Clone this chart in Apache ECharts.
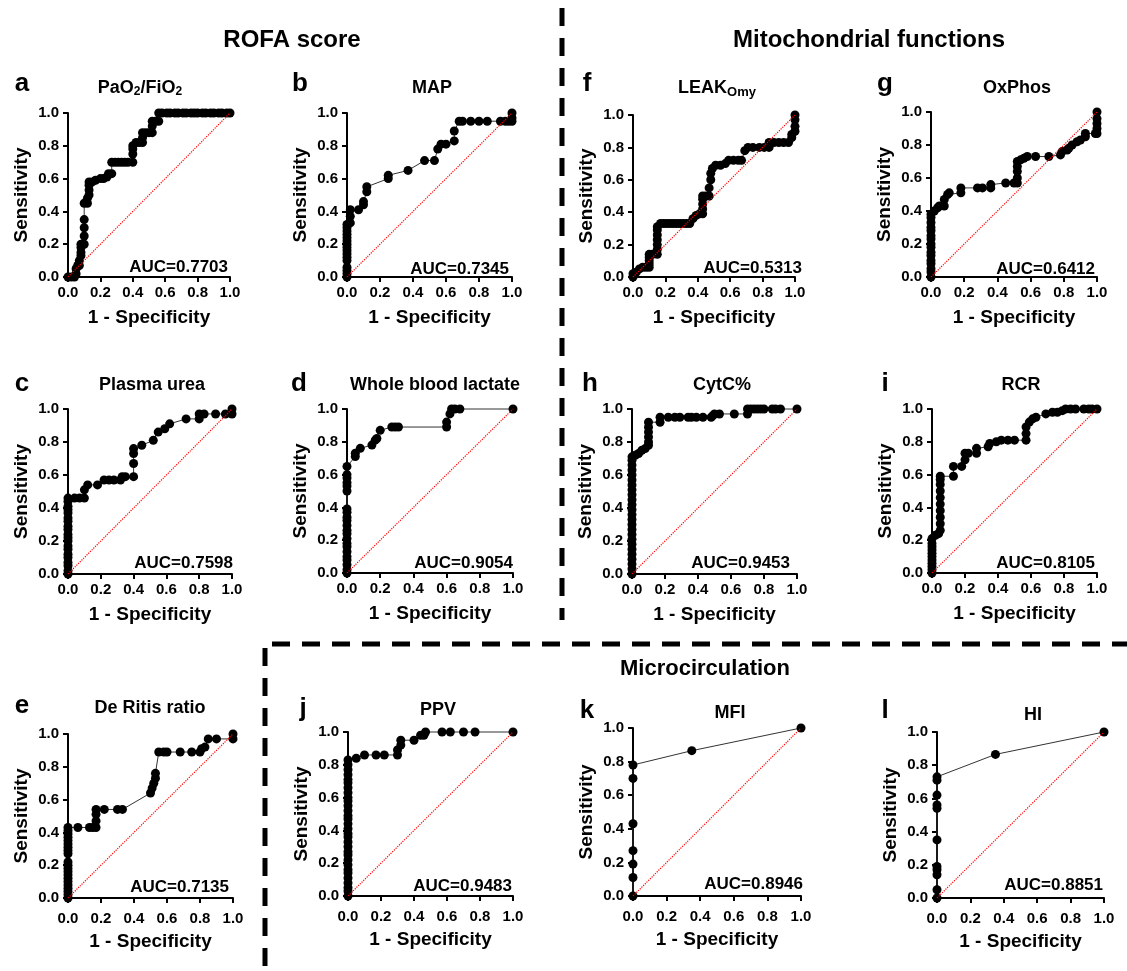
<!doctype html>
<html>
<head>
<meta charset="UTF-8">
<title>ROC curves</title>
<script src="https://cdn.jsdelivr.net/npm/echarts@6/dist/echarts.min.js"></script>
<style>body{margin:0;background:#fff}</style>
</head>
<body>
<div id="main" style="width:1127px;height:971px;"></div>
<script>
    var FONT = '"Liberation Sans", Arial, sans-serif';

    // ROC points [1 - specificity, sensitivity]
    var rocA = [[0,0],[0.02,0],[0.04,0],[0.05,0.02],[0.05,0.05],[0.06,0.07],[0.07,0.07],[0.07,0.1],[0.08,0.13],[0.08,0.15],[0.08,0.18],[0.08,0.2],[0.1,0.2],[0.1,0.25],[0.1,0.3],[0.1,0.35],[0.1,0.45],[0.12,0.45],[0.12,0.48],[0.13,0.5],[0.13,0.53],[0.13,0.56],[0.13,0.58],[0.15,0.58],[0.17,0.59],[0.2,0.6],[0.22,0.6],[0.24,0.61],[0.25,0.63],[0.27,0.63],[0.27,0.7],[0.29,0.7],[0.31,0.7],[0.33,0.7],[0.35,0.7],[0.37,0.7],[0.4,0.7],[0.4,0.75],[0.4,0.78],[0.4,0.8],[0.42,0.82],[0.44,0.82],[0.46,0.82],[0.46,0.85],[0.46,0.88],[0.48,0.88],[0.5,0.88],[0.52,0.88],[0.52,0.92],[0.52,0.95],[0.54,0.95],[0.56,0.95],[0.56,1],[0.58,1],[0.61,1],[0.63,1],[0.66,1],[0.68,1],[0.71,1],[0.73,1],[0.76,1],[0.78,1],[0.8,1],[0.83,1],[0.85,1],[0.88,1],[0.9,1],[0.93,1],[0.95,1],[0.98,1],[1,1]];
    var rocB = [[0,0],[0,0.02],[0,0.04],[0,0.06],[0,0.1],[0,0.12],[0,0.14],[0,0.16],[0,0.18],[0,0.2],[0,0.22],[0,0.24],[0,0.26],[0,0.28],[0,0.3],[0,0.32],[0.02,0.33],[0.02,0.37],[0.02,0.41],[0.07,0.41],[0.1,0.44],[0.1,0.46],[0.12,0.52],[0.12,0.55],[0.25,0.6],[0.25,0.62],[0.37,0.65],[0.47,0.71],[0.53,0.71],[0.55,0.78],[0.57,0.81],[0.6,0.81],[0.65,0.83],[0.65,0.89],[0.68,0.95],[0.7,0.95],[0.75,0.95],[0.8,0.95],[0.85,0.95],[0.93,0.95],[0.96,0.95],[0.98,0.95],[1,0.95],[1,0.97],[1,1]];
    var rocF = [[0,0],[0,0.02],[0.02,0.03],[0.04,0.05],[0.06,0.06],[0.08,0.06],[0.1,0.06],[0.1,0.08],[0.1,0.1],[0.1,0.12],[0.1,0.14],[0.12,0.14],[0.15,0.14],[0.15,0.17],[0.15,0.2],[0.15,0.23],[0.15,0.26],[0.15,0.29],[0.15,0.31],[0.17,0.33],[0.19,0.33],[0.21,0.33],[0.23,0.33],[0.25,0.33],[0.27,0.33],[0.29,0.33],[0.31,0.33],[0.33,0.33],[0.35,0.33],[0.37,0.36],[0.39,0.38],[0.41,0.39],[0.43,0.39],[0.43,0.42],[0.43,0.45],[0.43,0.48],[0.43,0.5],[0.45,0.5],[0.47,0.5],[0.47,0.55],[0.48,0.6],[0.48,0.64],[0.49,0.67],[0.51,0.69],[0.54,0.69],[0.57,0.7],[0.59,0.72],[0.62,0.72],[0.65,0.72],[0.67,0.72],[0.69,0.78],[0.71,0.8],[0.74,0.8],[0.78,0.8],[0.81,0.8],[0.84,0.8],[0.84,0.83],[0.87,0.83],[0.9,0.83],[0.93,0.83],[0.96,0.83],[0.98,0.86],[0.98,0.88],[1,0.9],[1,0.93],[1,0.97],[1,1]];
    var rocG = [[0,0],[0,0.03],[0,0.05],[0,0.08],[0,0.1],[0,0.13],[0,0.15],[0,0.18],[0,0.2],[0,0.23],[0,0.25],[0,0.28],[0,0.3],[0,0.33],[0,0.36],[0,0.38],[0.02,0.4],[0.04,0.42],[0.05,0.43],[0.08,0.43],[0.08,0.47],[0.1,0.5],[0.11,0.51],[0.18,0.51],[0.18,0.54],[0.28,0.54],[0.31,0.54],[0.36,0.54],[0.36,0.56],[0.45,0.57],[0.5,0.57],[0.52,0.57],[0.52,0.6],[0.52,0.64],[0.52,0.67],[0.52,0.7],[0.54,0.71],[0.56,0.72],[0.58,0.73],[0.63,0.73],[0.71,0.73],[0.78,0.74],[0.79,0.76],[0.82,0.77],[0.83,0.78],[0.85,0.8],[0.88,0.82],[0.9,0.83],[0.93,0.85],[0.93,0.87],[0.99,0.87],[1,0.87],[1,0.9],[1,0.93],[1,0.96],[1,1]];
    var rocC = [[0,0],[0,0.02],[0,0.05],[0,0.07],[0,0.1],[0,0.12],[0,0.15],[0,0.17],[0,0.2],[0,0.22],[0,0.24],[0,0.27],[0,0.29],[0,0.32],[0,0.34],[0,0.37],[0,0.39],[0,0.41],[0,0.44],[0,0.46],[0.04,0.46],[0.07,0.46],[0.1,0.46],[0.1,0.51],[0.12,0.54],[0.18,0.54],[0.22,0.57],[0.25,0.57],[0.28,0.57],[0.32,0.57],[0.33,0.59],[0.35,0.59],[0.4,0.59],[0.4,0.67],[0.4,0.73],[0.4,0.76],[0.45,0.78],[0.52,0.81],[0.55,0.86],[0.59,0.88],[0.62,0.91],[0.72,0.94],[0.8,0.94],[0.8,0.97],[0.83,0.97],[0.9,0.97],[0.96,0.97],[1,0.97],[1,1]];
    var rocD = [[0,0],[0,0.02],[0,0.05],[0,0.08],[0,0.1],[0,0.13],[0,0.16],[0,0.18],[0,0.21],[0,0.24],[0,0.26],[0,0.29],[0,0.32],[0,0.34],[0,0.37],[0,0.39],[0,0.5],[0,0.53],[0,0.55],[0,0.58],[0,0.6],[0,0.65],[0.05,0.71],[0.05,0.73],[0.08,0.76],[0.15,0.78],[0.17,0.81],[0.18,0.82],[0.2,0.87],[0.27,0.89],[0.29,0.89],[0.31,0.89],[0.6,0.89],[0.6,0.92],[0.62,0.97],[0.63,1],[0.65,1],[0.68,1],[1,1]];
    var rocH = [[0,0],[0,0.03],[0,0.06],[0,0.09],[0,0.12],[0,0.15],[0,0.18],[0,0.21],[0,0.24],[0,0.27],[0,0.3],[0,0.33],[0,0.36],[0,0.39],[0,0.42],[0,0.45],[0,0.48],[0,0.51],[0,0.54],[0,0.57],[0,0.6],[0,0.63],[0,0.66],[0,0.69],[0,0.71],[0.02,0.72],[0.04,0.73],[0.06,0.75],[0.08,0.76],[0.1,0.78],[0.1,0.8],[0.1,0.83],[0.1,0.86],[0.1,0.89],[0.1,0.92],[0.17,0.92],[0.17,0.95],[0.22,0.95],[0.26,0.95],[0.29,0.95],[0.34,0.95],[0.36,0.95],[0.39,0.95],[0.43,0.95],[0.48,0.95],[0.49,0.96],[0.5,0.97],[0.53,0.97],[0.62,0.97],[0.7,0.97],[0.7,1],[0.72,1],[0.74,1],[0.76,1],[0.78,1],[0.8,1],[0.85,1],[0.87,1],[0.9,1],[1,1]];
    var rocI = [[0,0],[0,0.02],[0,0.04],[0,0.06],[0,0.08],[0,0.1],[0,0.12],[0,0.14],[0,0.16],[0,0.18],[0,0.21],[0.02,0.23],[0.04,0.24],[0.05,0.26],[0.05,0.3],[0.05,0.34],[0.05,0.38],[0.05,0.42],[0.05,0.46],[0.05,0.5],[0.05,0.54],[0.05,0.57],[0.05,0.59],[0.13,0.59],[0.13,0.65],[0.18,0.65],[0.2,0.69],[0.2,0.73],[0.22,0.73],[0.27,0.73],[0.27,0.76],[0.34,0.77],[0.35,0.79],[0.39,0.8],[0.42,0.81],[0.46,0.81],[0.5,0.81],[0.57,0.81],[0.57,0.85],[0.57,0.89],[0.59,0.92],[0.61,0.94],[0.63,0.95],[0.69,0.97],[0.73,0.98],[0.76,0.98],[0.79,0.99],[0.81,1],[0.84,1],[0.87,1],[0.92,1],[0.95,1],[0.97,1],[1,1]];
    var rocE = [[0,0],[0,0.02],[0,0.04],[0,0.06],[0,0.08],[0,0.1],[0,0.12],[0,0.14],[0,0.16],[0,0.18],[0,0.2],[0,0.22],[0,0.27],[0,0.29],[0,0.31],[0,0.33],[0,0.35],[0,0.37],[0,0.39],[0,0.41],[0,0.43],[0.06,0.43],[0.13,0.43],[0.15,0.43],[0.17,0.43],[0.17,0.47],[0.17,0.51],[0.17,0.54],[0.22,0.54],[0.3,0.54],[0.33,0.54],[0.5,0.64],[0.51,0.67],[0.52,0.7],[0.53,0.73],[0.53,0.76],[0.55,0.89],[0.58,0.89],[0.6,0.89],[0.68,0.89],[0.75,0.89],[0.8,0.89],[0.81,0.91],[0.83,0.92],[0.85,0.97],[0.9,0.97],[1,0.97],[1,1]];
    var rocJ = [[0,0],[0,0.03],[0,0.05],[0,0.08],[0,0.11],[0,0.14],[0,0.16],[0,0.19],[0,0.22],[0,0.25],[0,0.27],[0,0.3],[0,0.33],[0,0.36],[0,0.38],[0,0.41],[0,0.44],[0,0.47],[0,0.49],[0,0.52],[0,0.55],[0,0.58],[0,0.6],[0,0.63],[0,0.66],[0,0.69],[0,0.71],[0,0.74],[0,0.77],[0,0.8],[0,0.83],[0.05,0.84],[0.1,0.86],[0.17,0.86],[0.22,0.86],[0.3,0.86],[0.3,0.89],[0.32,0.92],[0.32,0.95],[0.4,0.95],[0.44,0.98],[0.46,0.98],[0.47,1],[0.57,1],[0.62,1],[0.7,1],[0.77,1],[1,1]];
    var rocK = [[0,0],[0,0.11],[0,0.19],[0,0.27],[0,0.43],[0,0.7],[0,0.78],[0.35,0.865],[1,1]];
    var rocL = [[0,0],[0,0.05],[0,0.14],[0,0.17],[0,0.19],[0,0.35],[0,0.54],[0,0.56],[0,0.62],[0,0.71],[0,0.73],[0.35,0.865],[1,1]];
    var chanceLine = [[0,0],[1,1]];

    // panel order: a b f g / c d h i / e j k l
    var rocCurves = [rocA, rocB, rocF, rocG, rocC, rocD, rocH, rocI, rocE, rocJ, rocK, rocL];
    var panelLetters = ['a','b','f','g','c','d','h','i','e','j','k','l'];
    var panelTitles = ['PaO{s|2}/FiO{s|2}','MAP','LEAK{s2|Omy}','OxPhos','Plasma urea','Whole blood lactate','CytC%','RCR','De Ritis ratio','PPV','MFI','HI'];
    var aucValues = ['0.7703','0.7345','0.5313','0.6412','0.7598','0.9054','0.9453','0.8105','0.7135','0.9483','0.8946','0.8851'];
    var sectionTitles = ['ROFA score','Mitochondrial functions','Microcirculation'];

    /*------------------------------ layout ------------------------------*/
    var boxes = [
        [68,113,162,164],[347,113,165,164],[633,115,162,162],[931,112,166,165],
        [68,409,164,165],[347,409,166,164],[632,409,165,165],[932,409,165,164],
        [68,734,165,164],[348,732,165,164],[633,728,168,168],[937,732,167,166]
    ];
    var letterPos = [[22,84],[300,84],[587,84],[885,84],[22,384],[299,384],[590,384],[885,384],[22,706],[303,709],[587,711],[885,711]];
    var titlePos = [[140,88],[432,88],[717,88],[1017,88],[152,385],[435,385],[722,385],[1021,385],[150,708],[438,710],[730,713],[1033,715]];
    var aucPos = [[228,267],[509,269],[802,268],[1095,269],[233,563],[513,563],[790,563],[1095,563],[229,887],[512,886],[803,884],[1103,885]];
    var sectionPos = [[292,40],[869,40],[705,669]];
    var sectionSize = [24, 24, 22];

    var grid = [], xAxis = [], yAxis = [], series = [], graphic = [];
    function tickFmt(v) { return v.toFixed(1); }

    rocCurves.forEach(function (curve, i) {
        var b = boxes[i];
        var low = i >= 8;
        grid.push({left: b[0], top: b[1], width: b[2], height: b[3], containLabel: false, outerBoundsMode: 'none'});
        xAxis.push({
            gridIndex: i, type: 'value', min: 0, max: 1, interval: 0.2,
            name: '1 - Specificity', nameLocation: 'middle', nameGap: low ? 34 : 31,
            nameTextStyle: {color: '#000', fontSize: 19, fontWeight: 'bold', fontFamily: FONT},
            axisLine: {onZero: false, lineStyle: {color: '#000', width: 2}},
            axisTick: {length: 5, lineStyle: {color: '#000', width: 2}},
            axisLabel: {margin: low ? 13 : 8, color: '#000', fontSize: 15, fontWeight: 'bold', fontFamily: FONT, formatter: tickFmt},
            splitLine: {show: false}
        });
        yAxis.push({
            gridIndex: i, type: 'value', min: 0, max: 1, interval: 0.2,
            name: 'Sensitivity', nameLocation: 'middle', nameGap: 37, nameRotate: 90,
            nameTextStyle: {color: '#000', fontSize: 19, fontWeight: 'bold', fontFamily: FONT},
            axisLine: {show: true, onZero: false, lineStyle: {color: '#000', width: 2}},
            axisTick: {show: true, length: 5, lineStyle: {color: '#000', width: 2}},
            axisLabel: {margin: 9, color: '#000', fontSize: 15, fontWeight: 'bold', fontFamily: FONT, formatter: tickFmt},
            splitLine: {show: false}
        });
        series.push({
            type: 'line', xAxisIndex: i, yAxisIndex: i, data: curve,
            symbol: 'circle', symbolSize: 9, clip: false, z: 2,
            itemStyle: {color: '#000'},
            lineStyle: {color: '#333', width: 1}
        });
        series.push({
            type: 'line', xAxisIndex: i, yAxisIndex: i, data: chanceLine,
            symbol: 'none', silent: true, z: 3,
            lineStyle: {color: '#ff0000', width: 1.2, type: 'dotted'}
        });

        graphic.push({type: 'text', x: letterPos[i][0], y: letterPos[i][1], style: {
            text: panelLetters[i], font: 'bold 26px ' + FONT, fill: '#000',
            textAlign: 'center', textVerticalAlign: 'middle', align: 'center', verticalAlign: 'middle'}});
        graphic.push({type: 'text', x: titlePos[i][0], y: titlePos[i][1], style: {
            text: panelTitles[i], font: 'bold 18px ' + FONT, fill: '#000',
            textAlign: 'center', textVerticalAlign: 'middle', align: 'center', verticalAlign: 'middle',
            rich: {
                s: {fontSize: 12, fontWeight: 'bold', fontFamily: FONT, padding: [8, 0, 0, 0]},
                s2: {fontSize: 13, fontWeight: 'bold', fontFamily: FONT, padding: [9, 0, 0, 0]}
            }}});
        graphic.push({type: 'text', x: aucPos[i][0], y: aucPos[i][1], style: {
            text: 'AUC=' + aucValues[i], font: 'bold 17px ' + FONT, fill: '#000',
            textAlign: 'right', textVerticalAlign: 'middle', align: 'right', verticalAlign: 'middle'}});
    });

    sectionTitles.forEach(function (t, i) {
        graphic.push({type: 'text', x: sectionPos[i][0], y: sectionPos[i][1], style: {
            text: t, font: 'bold ' + sectionSize[i] + 'px ' + FONT, fill: '#000',
            textAlign: 'center', textVerticalAlign: 'middle', align: 'center', verticalAlign: 'middle'}});
    });

    // dashed separators
    var dash = {stroke: '#000', lineWidth: 5, lineDash: [18, 12]};
    graphic.push({type: 'line', shape: {x1: 562, y1: 8, x2: 562, y2: 620}, style: dash});
    graphic.push({type: 'line', shape: {x1: 272, y1: 644, x2: 1127, y2: 644}, style: dash});
    graphic.push({type: 'line', shape: {x1: 265, y1: 648, x2: 265, y2: 971}, style: dash});

    var myChart = echarts.init(document.getElementById('main'));
    myChart.setOption({
        animation: false,
        backgroundColor: '#fff',
        grid: grid,
        xAxis: xAxis,
        yAxis: yAxis,
        series: series,
        graphic: graphic
    });
</script>
</body>
</html>
